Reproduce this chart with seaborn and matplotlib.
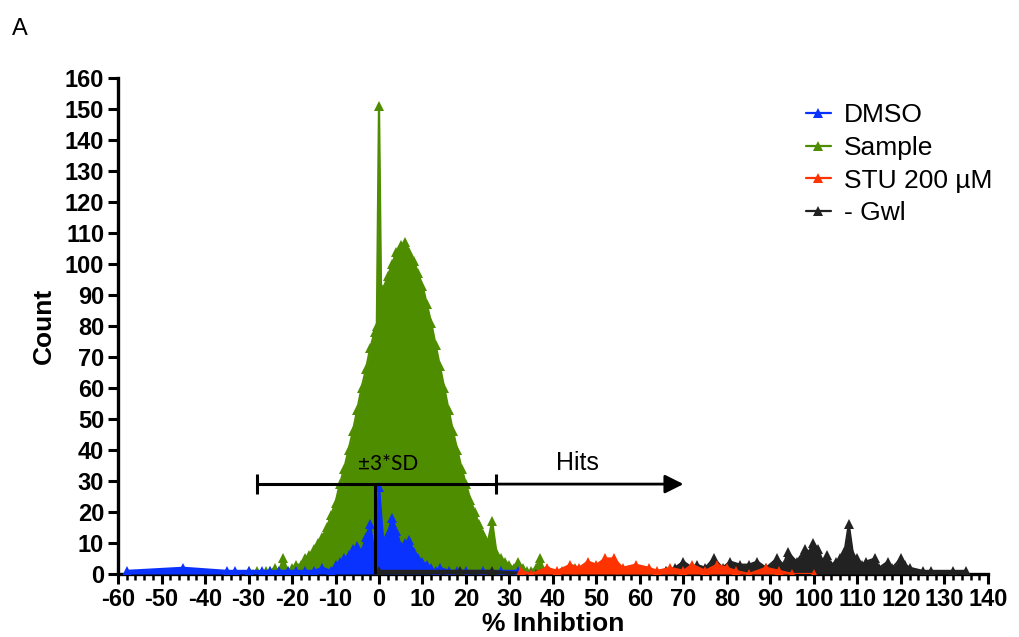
import numpy as np
import pandas as pd
import matplotlib
matplotlib.use('Agg')
import matplotlib.pyplot as plt
from matplotlib.ticker import MultipleLocator
import seaborn as sns

# frequency polygons (bin centre, count)
sample_x = [-30, -29, -28, -27, -26, -25, -24, -23, -22, -21, -20, -19, -18, -17, -16,
            -15, -14, -13, -12, -11, -10, -9, -8, -7, -6, -5, -4, -3, -2, -1, -0.5, 0, 0.5,
            1, 2, 3, 4, 5, 6, 7, 8, 9, 10, 11, 12, 13, 14, 15, 16, 17, 18, 19, 20,
            21, 22, 23, 24, 25, 26, 27, 28, 29, 30, 31, 32, 33, 34, 35, 36, 37, 38, 39, 40,
            42, 45, 48, 52, 55, 58, 62, 66, 70, 75, 80]
sample_y = [1, 0, 1, 0, 1, 1, 2, 1, 5, 1, 2, 3, 3, 5, 6,
            8, 10, 12, 15, 19, 23, 29, 34, 40, 46, 53, 60, 66, 73, 78, 80, 151, 88,
            92, 96, 100, 104, 106, 107, 104, 101, 97, 93, 87, 81, 74, 67, 60, 53, 46, 40, 34, 29,
            24, 20, 16, 13, 10, 17, 7, 5, 4, 3, 2, 4, 2, 1, 1, 2, 5, 1, 1, 0,
            1, 2, 1, 1, 2, 1, 1, 1, 0, 1, 1]

dmso_x = [-58, -45, -35, -33, -30, -27, -25, -23, -21, -19, -17, -15, -13, -11,
          -10, -9, -8, -7, -6, -5, -4, -3, -2, -1, 0, 1, 2, 3, 4, 5, 6, 7, 8, 9,
          10, 11, 12, 13, 14, 16, 18, 20, 24, 28, 32, 35]
dmso_y = [1, 2, 1, 1, 1, 1, 1, 1, 1, 1, 1, 1, 2, 1,
          3, 4, 5, 6, 8, 9, 7, 12, 16, 6, 28, 10, 13, 18, 14, 9, 10, 11, 7, 5,
          4, 3, 2, 1, 2, 1, 1, 1, 1, 1, 1, 0]

stu_x = [32.6, 35, 38.6, 41, 44, 46, 48, 50, 52, 54, 56, 59, 62, 64, 67, 70, 72, 75,
         77.7, 80, 82, 85, 89, 92, 95, 100]
stu_y = [1, 0, 2, 1, 3, 2, 4, 3, 5, 5, 2, 3, 2, 1, 2, 1, 3, 1,
         3, 2, 1, 0, 2, 1, 0, 0]

gwl_x = [0, 18.6, 26, 36, 45, 55, 62, 66, 68, 70, 72, 73, 75, 77, 79, 80.7, 83, 85, 87,
         89, 91.5, 93, 94, 96, 98, 99, 99.8, 101, 102, 103, 104, 105, 106, 107, 108, 109,
         110, 111, 112, 114, 115, 117, 118, 120, 121, 122, 125, 127, 132, 135]
gwl_y = [1, 1, 1, 0, 0, 0, 1, 1, 2, 4, 2, 3, 2, 5, 2, 4, 3, 3, 4,
         2, 5, 3, 7, 4, 8, 7, 10, 8, 4, 6, 3, 4, 5, 7, 16, 6,
         5, 3, 4, 5, 2, 4, 2, 5, 3, 2, 1, 1, 1, 1]

series = [('Sample', sample_x, sample_y, '#4e8c00'),
          ('DMSO', dmso_x, dmso_y, '#0a32ff'),
          ('- Gwl', gwl_x, gwl_y, '#222222'),
          ('STU 200 µM', stu_x, stu_y, '#ff3300')]
legend_order = ['DMSO', 'Sample', 'STU 200 µM', '- Gwl']

sd_low, sd_high, sd_level = -28, 27, 29
mean_x = -1
hits_end = 70

sns.set_style('ticks')
plt.rcParams['font.family'] = ['Liberation Sans', 'DejaVu Sans']
plt.rcParams['axes.unicode_minus'] = False
for key in ['text.color', 'axes.labelcolor', 'xtick.color', 'ytick.color', 'axes.edgecolor']:
    plt.rcParams[key] = 'black'

fig = plt.figure(figsize=(10.2, 6.37), dpi=100)
ax = fig.add_axes([0.1157, 0.0989, 0.9686 - 0.1157, 0.8776 - 0.0989])

for z, (name, xs, ys, col) in enumerate(series):
    df = pd.DataFrame({'x': xs, 'y': ys})
    ax.fill_between(df['x'], df['y'], color=col, lw=0, zorder=2 + z)
    sns.lineplot(data=df, x='x', y='y', ax=ax, color=col, lw=1.6, marker='^',
                 markersize=7, markeredgewidth=0, label=name, sort=False,
                 estimator=None, zorder=2 + z)

# +-3SD bar and hits arrow
ax.plot([sd_low, sd_high], [sd_level, sd_level], color='k', lw=2.2, zorder=10)
ax.plot([sd_low, sd_high], [sd_level, sd_level], ls='none', marker='|', ms=14,
        mew=2.2, color='k', zorder=10)
ax.plot([mean_x, mean_x], [0, sd_level], color='k', lw=2.2, zorder=10)
ax.annotate('', xy=(hits_end, sd_level), xytext=(sd_high, sd_level),
            arrowprops=dict(arrowstyle='-|>', lw=2.0, color='k', mutation_scale=28,
                            shrinkA=0, shrinkB=0), zorder=10)
ax.text(2, 35.5, '±3*SD', ha='center', va='center', fontsize=15,
        family=['Lato', 'DejaVu Sans'], zorder=11)
ax.text(45.7, 35.8, 'Hits', ha='center', va='center', fontsize=18, zorder=11)

ax.set_xlim(-60, 140)
ax.set_ylim(0, 160)
ax.xaxis.set_major_locator(MultipleLocator(10))
ax.xaxis.set_minor_locator(MultipleLocator(2))
ax.yaxis.set_major_locator(MultipleLocator(10))
ax.tick_params(axis='both', which='major', length=7, width=2.2, labelsize=17, pad=3)
ax.tick_params(axis='x', which='minor', length=4, width=1.8)
for lab in ax.get_xticklabels() + ax.get_yticklabels():
    lab.set_fontweight('bold')
for s in ['left', 'bottom']:
    ax.spines[s].set_linewidth(2.4)
sns.despine(ax=ax)

ax.set_xlabel('% Inhibtion', fontsize=19, fontweight='bold', labelpad=1)
ax.set_ylabel('Count', fontsize=19, fontweight='bold', labelpad=6)

handles, labels = ax.get_legend_handles_labels()
hmap = dict(zip(labels, handles))
ax.legend([hmap[l] for l in legend_order], legend_order, loc='upper left',
          bbox_to_anchor=(0.790, 0.838), bbox_transform=fig.transFigure,
          frameon=False, fontsize=19, handlelength=0.95, handletextpad=0.5,
          labelspacing=0.33, borderpad=0, borderaxespad=0)

fig.text(0.012, 0.955, 'A', fontsize=17, va='center', ha='left')

fig.savefig('out.png', dpi=100)
